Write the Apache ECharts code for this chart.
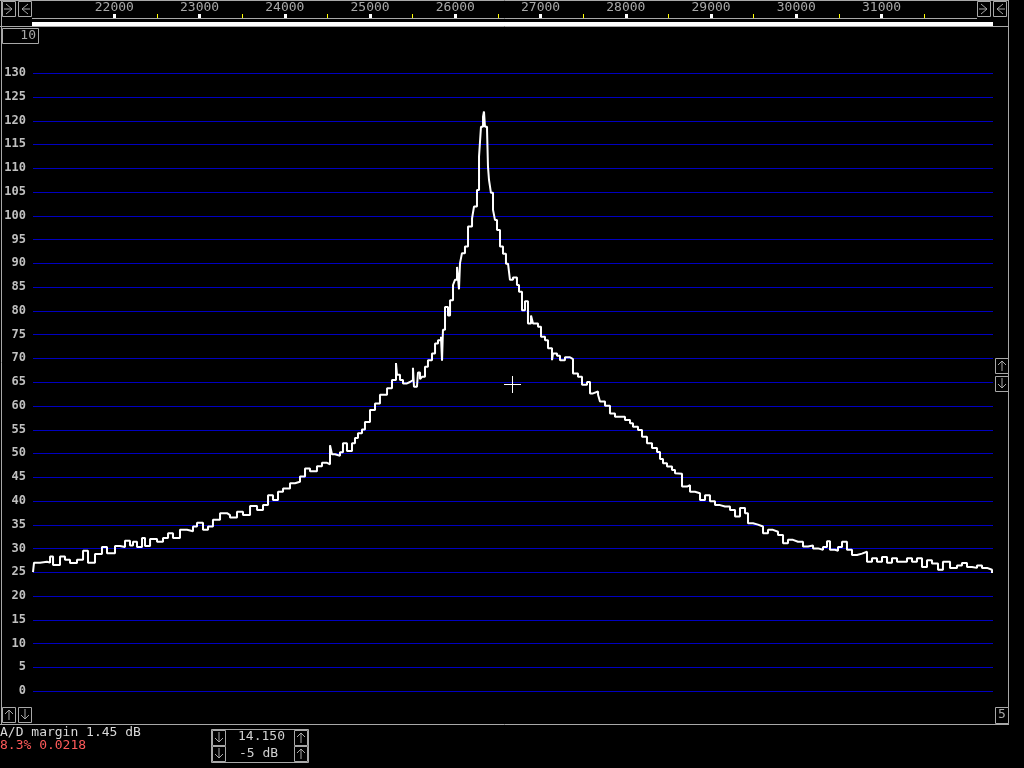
<!DOCTYPE html>
<html>
<head>
<meta charset="utf-8">
<script src="https://cdn.jsdelivr.net/npm/echarts@6/dist/echarts.min.js"></script>
<style>
html,body{margin:0;padding:0;background:#000;}
#chart{width:1024px;height:768px;}
</style>
</head>
<body>
<div id="chart"></div>
<script>
// Frequency (Hz) of each reading and spectrum level (dB)
const freqHz = [21046,21058,21128,21210,21246,21281,21363,21421,21480,21562,21633,21691,21773,21855,21914,22008,22067,22125,22184,22219,22266,22325,22360,22419,22501,22571,22630,22688,22770,22853,22923,22970,23040,23099,23157,23240,23322,23357,23439,23509,23592,23674,23744,23803,23861,23920,23979,24061,24119,24178,24237,24295,24377,24436,24495,24530,24553,24589,24647,24682,24729,24788,24823,24858,24905,24940,24999,25058,25116,25199,25257,25304,25316,25351,25386,25433,25468,25503,25515,25550,25562,25586,25609,25644,25679,25726,25762,25797,25832,25844,25855,25879,25914,25938,25973,25996,26020,26043,26055,26078,26113,26149,26196,26219,26254,26278,26301,26325,26336,26348,26372,26383,26395,26418,26442,26465,26489,26524,26559,26594,26618,26641,26676,26723,26747,26782,26817,26852,26888,26911,26970,27005,27052,27087,27134,27146,27193,27228,27286,27345,27380,27439,27486,27545,27580,27615,27674,27697,27756,27814,27873,27932,27990,28049,28084,28143,28190,28248,28307,28366,28401,28436,28483,28542,28577,28600,28659,28718,28753,28811,28870,28929,28987,29046,29105,29163,29222,29281,29339,29398,29433,29492,29550,29609,29668,29726,29785,29844,29902,29961,30020,30078,30137,30196,30254,30313,30360,30395,30454,30489,30536,30594,30653,30712,30770,30829,30888,30946,31005,31064,31122,31181,31240,31298,31357,31415,31474,31533,31591,31662,31720,31803,31885,31943,32002,32061,32119,32178,32237,32295];
const levelDb = [25.0,27.0,27.2,27.0,28.3,26.5,28.3,27.6,26.9,27.6,29.5,27.0,28.8,30.3,29.0,30.5,30.3,31.6,30.6,31.4,30.3,32.2,30.5,32.0,31.4,32.2,33.2,32.2,33.9,33.6,34.6,35.4,33.9,34.6,36.0,37.4,37.0,36.5,37.7,37.0,38.9,38.1,39.1,41.2,40.2,41.9,42.6,43.7,44.0,45.1,46.8,46.2,47.3,48.0,47.7,51.7,49.8,49.5,50.2,52.1,50.5,52.1,53.2,54.2,55.0,56.6,59.1,60.5,62.3,63.7,65.4,69.0,66.5,65.4,64.7,65.0,65.4,68.0,64.0,64.0,67.0,65.6,66.1,68.2,69.6,71.0,73.1,73.8,74.5,69.5,76.0,80.8,79.0,82.2,85.4,86.5,89.2,84.5,90.0,92.1,93.5,97.7,99.4,101.9,105.4,112.4,118.7,120.8,121.9,118.7,118.0,110.3,107.5,104.8,101.2,99.1,97.0,93.5,92.0,89.9,90.0,86.5,87.0,85.4,84.0,80.1,82.0,77.3,79.0,77.3,76.6,74.5,73.8,72.1,69.6,71.0,70.5,69.6,70.2,69.8,66.8,66.1,64.4,65.0,62.6,63.0,62.3,60.9,60.0,58.4,57.7,57.7,57.0,56.3,55.6,54.9,53.5,52.1,51.1,50.3,48.8,47.9,47.2,46.5,45.8,45.7,43.0,43.3,41.9,41.6,40.2,41.2,39.9,39.1,38.8,38.8,38.1,36.7,38.5,37.4,35.3,35.0,34.6,33.2,33.9,33.5,32.8,31.1,31.8,31.4,31.4,30.4,30.6,30.0,29.7,30.3,31.5,29.7,29.5,30.3,31.4,29.7,28.6,28.9,29.3,27.2,27.9,27.2,28.2,27.0,27.9,27.2,27.2,27.9,27.2,27.9,26.1,27.5,26.8,25.5,27.2,25.9,26.4,26.9,26.1,25.9,26.4,25.9,25.5,24.8];
const freqTicks = [22000,23000,24000,25000,26000,27000,28000,29000,30000,31000];
const halfTicks = [22500,23500,24500,25500,26500,27500,28500,29500,30500,31500];
const freqMin = 21046, freqMax = 32307;
const levelMin = 0, levelMax = 130, levelStep = 5;
const statusLines = ['A/D margin 1.45 dB', '8.3% 0.0218'];
const spinValues = ['14.150', '-5 dB'];
const zoomBoxText = '10', rightBoxText = '5';

const GRAY = '#a8a8a8';
const MONO = '"DejaVu Sans Mono", "Liberation Mono", monospace';

function box(x, y, w, h) {
  return {type:'rect', shape:{x:x+0.5, y:y+0.5, width:w, height:h}, style:{fill:'#000', stroke:GRAY, lineWidth:1}, z:10};
}
function arrow(x, y, dir) { // 13x15 box
  const els = [box(x, y, 13, 15)];
  const cx = x + 7, cy = y + 8;
  let stem, head;
  if (dir === 'right') { stem = [[x+2,cy],[x+10,cy]]; head = [[x+4,y+3],[x+10,cy],[x+4,y+13]]; }
  if (dir === 'left')  { stem = [[x+4,cy],[x+12,cy]]; head = [[x+10,y+3],[x+4,cy],[x+10,y+13]]; }
  if (dir === 'up')    { stem = [[cx,y+3],[cx,y+13]]; head = [[x+3,y+7],[cx,y+3],[x+11,y+7]]; }
  if (dir === 'down')  { stem = [[cx,y+2],[cx,y+12]]; head = [[x+3,y+8],[cx,y+12],[x+11,y+8]]; }
  els.push({type:'polyline', shape:{points:stem}, style:{stroke:GRAY, lineWidth:1, fill:null}, z:11});
  els.push({type:'polyline', shape:{points:head}, style:{stroke:GRAY, lineWidth:1, fill:null}, z:11});
  return els;
}
function line(x1, y1, x2, y2, color, w, z) {
  return {type:'line', shape:{x1:x1, y1:y1, x2:x2, y2:y2}, style:{stroke:color, lineWidth:w||1}, z:z||5};
}
function text(x, y, s, color, align) {
  return {type:'text', x:x, y:y, style:{text:s, fill:color, font:'13px ' + MONO, textAlign:align||'left', textVerticalAlign:'middle'}, z:12};
}

const graphics = [
  // frame
  line(1.5, 0, 1.5, 724.5, GRAY),
  line(1008.5, 0, 1008.5, 724.5, GRAY),
  line(0, 724.5, 1009, 724.5, GRAY),
  line(0, 0.5, 1009, 0.5, GRAY),
  // top axis line and scroll bar
  line(32, 18.5, 977, 18.5, GRAY),
  {type:'rect', shape:{x:32, y:22, width:961, height:4}, style:{fill:'#fff'}, z:5},
  line(0, 26.5, 1009, 26.5, GRAY),
  ...arrow(2, 1, 'right'), ...arrow(18, 1, 'left'),
  ...arrow(977, 1, 'right'), ...arrow(993, 1, 'left'),
  // zoom box
  box(2, 28, 36, 15),
  text(36, 36, zoomBoxText, GRAY, 'right'),
  // right side
  ...arrow(995, 358, 'up'), ...arrow(995, 376, 'down'),
  box(995, 707, 13, 16),
  text(1002, 715, rightBoxText, GRAY, 'center'),
  // bottom left
  ...arrow(2, 707, 'up'), ...arrow(18, 707, 'down'),
  text(0, 733, statusLines[0], '#d8d8d8'),
  text(0, 746, statusLines[1], '#ff5a5a'),
  // bottom spin box
  box(211, 729, 97, 33),
  line(211, 745.5, 308, 745.5, GRAY),
  ...arrow(212, 730, 'down'), ...arrow(212, 746, 'down'),
  ...arrow(294, 730, 'up'), ...arrow(294, 746, 'up'),
  text(238, 737, spinValues[0], '#d0d0d0'),
  text(239, 754, spinValues[1], '#d0d0d0'),
  // cursor cross
  line(504, 384.5, 521, 384.5, '#fff', 1, 20),
  line(512.5, 376, 512.5, 393, '#fff', 1, 20)
];

const chart = echarts.init(document.getElementById('chart'), null, {renderer:'canvas'});
const topAxisBase = {type:'value', position:'top', offset:55, min:freqMin, max:freqMax,
  axisLine:{show:false, onZero:false}, splitLine:{show:false}};
chart.setOption({
  backgroundColor:'#000',
  animation:false,
  grid:{left:33, top:73, width:960, height:618, containLabel:false, outerBoundsMode:'none'},
  xAxis:[
    Object.assign({}, topAxisBase, {
     axisTick:{show:true, customValues:freqTicks, length:4, lineStyle:{color:'#fff', width:3}},
     axisLabel:{show:true, customValues:freqTicks, margin:4, color:GRAY, fontFamily:MONO, fontSize:13,
       formatter:v => String(v)}}),
    Object.assign({}, topAxisBase, {
     axisTick:{show:true, customValues:halfTicks, length:4, lineStyle:{color:'#ffff00', width:1}},
     axisLabel:{show:false}})
  ],
  yAxis:{type:'value', min:levelMin, max:levelMax, interval:levelStep,
    axisLine:{show:false}, axisTick:{show:false},
    axisLabel:{color:'#c0c0c0', fontFamily:MONO, fontSize:12, fontWeight:'bold', margin:7},
    splitLine:{show:false}},
  series:[{
    type:'line', xAxisIndex:0, step:'end', symbol:'none',
    data:freqHz.map((f, i) => [f, levelDb[i]]),
    lineStyle:{color:'#fff', width:2}, z:3
  }],
  graphic:graphics
});

// crisp horizontal grid lines at the y axis tick positions (positions from the library's scale)
const gridLines = [];
for (let v = levelMin; v <= levelMax; v += levelStep) {
  const py = Math.round(chart.convertToPixel({yAxisIndex:0}, v)) + 0.5;
  gridLines.push(line(33, py, 993, py, '#0000c0', 1, 1));
}
chart.setOption({graphic: graphics.concat(gridLines)});
</script>
</body>
</html>
